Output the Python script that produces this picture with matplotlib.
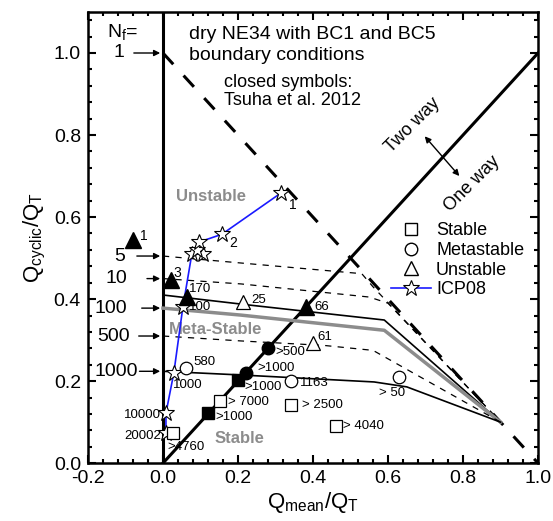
import matplotlib
matplotlib.use('Agg')
import matplotlib.pyplot as plt
from matplotlib.ticker import MultipleLocator
from matplotlib.lines import Line2D

plt.rcParams['font.family'] = ['Liberation Sans', 'DejaVu Sans']
plt.rcParams['mathtext.default'] = 'regular'

# N_f contour lines (Q_mean/Q_T, Q_cyclic/Q_T)
n5_x = [0.0, 0.208, 0.53, 0.56, 0.9]
n5_y = [0.505, 0.488, 0.462, 0.43, 0.1]
n10_x = [0.0, 0.208, 0.55, 0.6, 0.9]
n10_y = [0.45, 0.437, 0.405, 0.39, 0.1]
n100a_x = [0.0, 0.235, 0.59, 0.9]
n100a_y = [0.41, 0.385, 0.349, 0.1]
n100g_x = [0.0, 0.208, 0.59, 0.9]
n100g_y = [0.378, 0.361, 0.324, 0.1]
n500_x = [0.0, 0.208, 0.43, 0.56, 0.9]
n500_y = [0.31, 0.298, 0.287, 0.275, 0.1]
n1000_x = [0.0, 0.208, 0.563, 0.65, 0.9]
n1000_y = [0.224, 0.215, 0.198, 0.186, 0.1]

# N_f labels on the left
nf_labels = ['1', '5', '10', '100', '500', '1000']
nf_label_x = [-0.117, -0.115, -0.123, -0.139, -0.131, -0.125]
nf_y = [1.0, 0.505, 0.45, 0.378, 0.31, 0.224]
nf_tail_x = [-0.085, -0.077, -0.05, -0.064, -0.072, -0.07]

# Tsuha et al. 2012 (closed symbols)
tri_f_x = [-0.08, 0.021, 0.064, 0.381]
tri_f_y = [0.544, 0.446, 0.405, 0.38]
circ_f_x = [0.28, 0.221]
circ_f_y = [0.28, 0.22]
sq_f_x = [0.2, 0.12]
sq_f_y = [0.202, 0.122]

# open symbols
sq_o_x = [0.152, 0.027, 0.341, 0.461]
sq_o_y = [0.151, 0.073, 0.141, 0.09]
circ_o_x = [0.061, 0.341, 0.629]
circ_o_y = [0.232, 0.2, 0.21]
tri_o_x = [0.213, 0.40]
tri_o_y = [0.393, 0.293]

# ICP08
icp_x = [0.008, 0.008, 0.029, 0.053, 0.077, 0.107, 0.09, 0.096, 0.157, 0.315]
icp_y = [0.073, 0.122, 0.22, 0.38, 0.51, 0.51, 0.52, 0.539, 0.558, 0.659]

# point annotations: text, x, y, ha
point_labels = [
    ('170', 0.069, 0.425, 'left'), ('100', 0.069, 0.38, 'left'),
    ('580', 0.08, 0.246, 'left'), ('1000', 0.027, 0.19, 'left'),
    ('25', 0.235, 0.397, 'left'), ('10000', -0.005, 0.117, 'right'),
    ('20002', -0.005, 0.066, 'right'), ('>500', 0.30, 0.27, 'left'),
    ('>1000', 0.253, 0.232, 'left'), ('>1000', 0.216, 0.185, 'left'),
    ('> 7000', 0.173, 0.149, 'left'), ('>1000', 0.139, 0.112, 'left'),
    ('>4760', 0.013, 0.04, 'left'), ('66', 0.403, 0.38, 'left'),
    ('61', 0.413, 0.307, 'left'), ('1163', 0.365, 0.195, 'left'),
    ('> 50', 0.576, 0.171, 'left'), ('> 2500', 0.371, 0.141, 'left'),
    ('> 4040', 0.48, 0.09, 'left'),
]
small_labels = [('1', -0.05, 0.553), ('3', 0.037, 0.463), ('2', 0.187, 0.537), ('1', 0.347, 0.629)]

fig = plt.figure(figsize=(5.53, 5.21), dpi=100)
ax = fig.add_axes([0.159, 0.111, 0.814, 0.866])

ax.plot([0, 0], [0, 1.1], color='k', lw=2.2)
ax.plot([0, 1.0], [0, 1.0], color='k', lw=2.2)
ax.plot([0, 1.0], [1.0, 0], color='k', lw=2.2, linestyle=(0, (5, 5)))

ax.plot(n5_x, n5_y, 'k', lw=0.9, linestyle=(0, (5, 5)))
ax.plot(n10_x, n10_y, 'k', lw=0.9, linestyle=(0, (5, 5)))
ax.plot(n100a_x, n100a_y, 'k', lw=1.2)
ax.plot(n100g_x, n100g_y, color='#8c8c8c', lw=2.5)
ax.plot(n500_x, n500_y, 'k', lw=0.9, linestyle=(0, (5, 5)))
ax.plot(n1000_x, n1000_y, 'k', lw=1.2)

for lab, lx, y, tx in zip(nf_labels, nf_label_x, nf_y, nf_tail_x):
    ax.text(lx, y, lab, fontsize=14, ha='center', va='center')
    ax.annotate('', xy=(0, y), xytext=(tx, y),
                arrowprops=dict(arrowstyle='-|>', color='k', lw=1, mutation_scale=9))
ax.text(-0.107, 1.051, 'N$_f$=', fontsize=14, ha='center', va='center')

ax.plot(icp_x, icp_y, color='#1a1aff', lw=1.2, marker='*', ms=12,
        mfc='white', mec='k', mew=0.8, zorder=4)
ax.plot(tri_f_x, tri_f_y, 'k^', ms=11, ls='none', zorder=5)
ax.plot(circ_f_x, circ_f_y, 'ko', ms=9, ls='none', zorder=5)
ax.plot(sq_f_x, sq_f_y, 'ks', ms=8, ls='none', zorder=5)
ax.plot(sq_o_x, sq_o_y, 's', ms=8, mfc='white', mec='k', mew=0.9, ls='none', zorder=5)
ax.plot(circ_o_x, circ_o_y, 'o', ms=9, mfc='white', mec='k', mew=0.9, ls='none', zorder=5)
ax.plot(tri_o_x, tri_o_y, '^', ms=10, mfc='white', mec='k', mew=0.9, ls='none', zorder=5)

for t, x, y, ha in point_labels:
    ax.text(x, y, t, fontsize=9.5, ha=ha, va='center', zorder=6)
for t, x, y in small_labels:
    ax.text(x, y, t, fontsize=10, ha='center', va='center', zorder=6)

gray = '#8c8c8c'
ax.text(0.128, 0.649, 'Unstable', color=gray, fontsize=12, fontweight='bold', ha='center', va='center')
ax.text(0.139, 0.327, 'Meta-Stable', color=gray, fontsize=12, fontweight='bold', ha='center', va='center')
ax.text(0.203, 0.061, 'Stable', color=gray, fontsize=12, fontweight='bold', ha='center', va='center')

ax.text(0.069, 1.044, 'dry NE34 with BC1 and BC5', fontsize=14, va='center')
ax.text(0.069, 0.993, 'boundary conditions', fontsize=14, va='center')
ax.text(0.163, 0.929, 'closed symbols:', fontsize=13, va='center')
ax.text(0.163, 0.883, 'Tsuha et al. 2012', fontsize=13, va='center')

ax.text(0.667, 0.824, 'Two way', fontsize=13, rotation=45, ha='center', va='center')
ax.text(0.824, 0.68, 'One way', fontsize=13, rotation=45, ha='center', va='center')
ax.annotate('', xy=(0.693, 0.802), xytext=(0.795, 0.695),
            arrowprops=dict(arrowstyle='<|-|>', color='k', lw=1, mutation_scale=9))

handles = [
    Line2D([], [], marker='s', ls='none', ms=8, mfc='white', mec='k'),
    Line2D([], [], marker='o', ls='none', ms=9, mfc='white', mec='k'),
    Line2D([], [], marker='^', ls='none', ms=10, mfc='white', mec='k'),
    Line2D([], [], marker='*', color='#1a1aff', lw=1.2, ms=12, mfc='white', mec='k', mew=0.8),
]
ax.legend(handles, ['Stable', 'Metastable', 'Unstable', 'ICP08'], loc='upper left',
          bbox_to_anchor=(0.637, 0.57), frameon=False, fontsize=13,
          handlelength=2.2, handletextpad=0.3, labelspacing=0.15)

ax.set_xlim(-0.2, 1.0)
ax.set_ylim(0, 1.1)
ax.xaxis.set_major_locator(MultipleLocator(0.2))
ax.xaxis.set_minor_locator(MultipleLocator(0.04))
ax.yaxis.set_major_locator(MultipleLocator(0.2))
ax.yaxis.set_minor_locator(MultipleLocator(0.04))
ax.set_xticks([-0.2, 0.0, 0.2, 0.4, 0.6, 0.8, 1.0])
ax.set_xticklabels(['-0.2', '0.0', '0.2', '0.4', '0.6', '0.8', '1.0'])
ax.set_yticks([0.0, 0.2, 0.4, 0.6, 0.8, 1.0])
ax.set_yticklabels(['0.0', '0.2', '0.4', '0.6', '0.8', '1.0'])
ax.tick_params(which='both', direction='in', top=True, right=True, labelsize=14, width=1.5)
ax.tick_params(which='major', length=6, pad=5)
ax.tick_params(which='minor', length=3)
for s in ax.spines.values():
    s.set_linewidth(1.8)

ax.set_xlabel('Q$_{mean}$/Q$_T$', fontsize=16, labelpad=2)
ax.set_ylabel('Q$_{cyclic}$/Q$_T$', fontsize=16, labelpad=4)

fig.savefig('out.png', dpi=100)
